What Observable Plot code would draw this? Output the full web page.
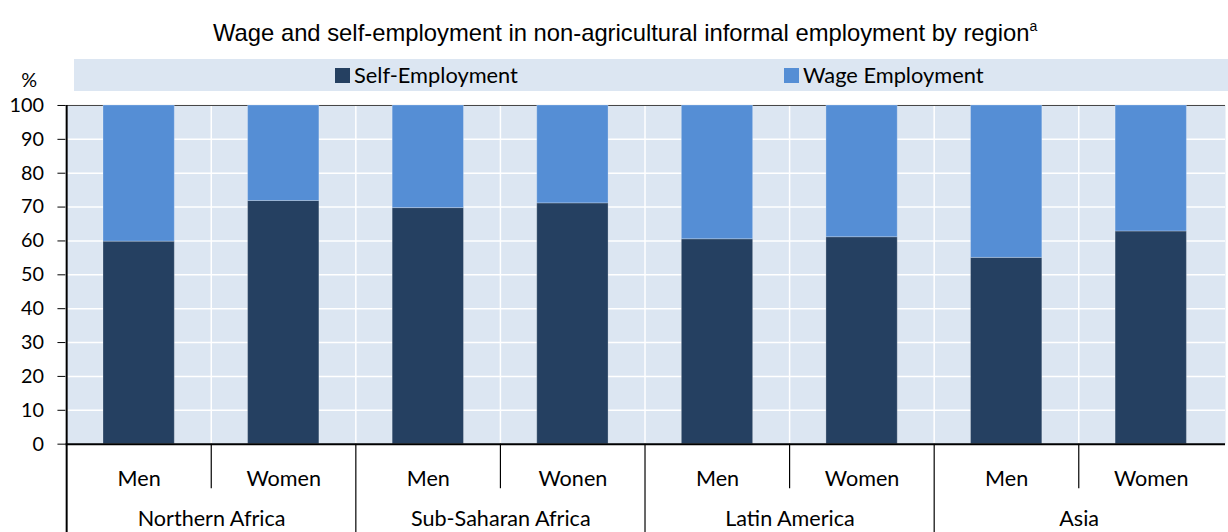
<!DOCTYPE html>
<html>
<head>
<meta charset="utf-8">
<script src="https://cdn.jsdelivr.net/npm/d3@7"></script>
<script src="https://cdn.jsdelivr.net/npm/@observablehq/plot@0.6"></script>
<style>
  html, body { margin: 0; padding: 0; background: #fff; overflow: hidden; }
  #wrap { position: relative; width: 1228px; height: 532px; overflow: hidden; }
  #title { position: absolute; left: 213px; top: 13px; font-family: "Liberation Sans", Arial, sans-serif; font-size: 23.8px; line-height: 28px; color: #000; white-space: nowrap; }
  #title sup { font-size: 14px; position: relative; top: -1px; }
  #legend { position: absolute; left: 74px; top: 59px; width: 1170px; height: 32px; background: #DCE6F2; font-family: Lato, "Noto Sans", sans-serif; font-size: 21.8px; color: #000; }
  .item { position: absolute; top: 0; height: 32px; line-height: 32px; white-space: nowrap; }
  .sw { position: absolute; top: 9px; width: 15px; height: 15px; }
  .lab { position: absolute; top: 0px; }
  #chart { position: absolute; left: 0; top: 0; }
</style>
</head>
<body>
<div id="wrap">
  <div id="chart"></div>
  <div id="title">Wage and self-employment in non-agricultural informal employment by region<sup>a</sup></div>
  <div id="legend"></div>
</div>
<script>
// ---- data ----
const regions = ["Northern Africa", "Sub-Saharan Africa", "Latin America", "Asia"];
const sexLabels = ["Men", "Women", "Men", "Wonen", "Men", "Women", "Men", "Women"];
const selfEmployment = [59.8, 71.8, 69.7, 71.1, 60.5, 61.1, 55.0, 62.8];
const wageEmployment = [40.2, 28.2, 30.3, 28.9, 39.5, 38.9, 45.0, 37.2];
const seriesNames = ["Self-Employment", "Wage Employment"];
const seriesColors = ["#254061", "#558ED5"];
const yTicks = [0, 10, 20, 30, 40, 50, 60, 70, 80, 90, 100];

// ---- layout ----
const W = 1240, H = 560, mL = 66, mR = 3, mT = 106, mB = 112;
const step = (W - mL - mR) / sexLabels.length;
const frameH = H - mT - mB;

const keys = sexLabels.map((s, i) => `${regions[Math.floor(i / 2)]}|${i}`);
const rows = [];
keys.forEach((k, i) => {
  rows.push({key: k, series: seriesNames[0], value: selfEmployment[i]});
  rows.push({key: k, series: seriesNames[1], value: wageEmployment[i]});
});
const sexRows = keys.map((k, i) => ({key: k, label: sexLabels[i]}));
const regionRows = regions.map((r, j) => ({key: keys[j * 2], label: r}));
const innerDividers = keys.filter((k, i) => i % 2 === 1);
const groupDividers = keys.filter((k, i) => i % 2 === 0);
const gridX = keys.slice(1);

const chart = Plot.plot({
  width: W, height: H,
  marginLeft: mL, marginRight: mR, marginTop: mT, marginBottom: mB,
  style: {fontFamily: "Lato, 'Noto Sans', sans-serif", fontSize: "20px", color: "#000", background: "transparent", overflow: "visible"},
  x: {domain: keys, paddingInner: 0.506, paddingOuter: 0.253, axis: null},
  y: {domain: [0, 100], axis: null},
  color: {domain: seriesNames, range: seriesColors},
  marks: [
    Plot.frame({fill: "#DCE6F2", stroke: null}),
    Plot.ruleY(yTicks.filter(t => t > 0 && t < 100), {stroke: "#fff", strokeWidth: 1.5}),
    Plot.ruleX(gridX, {x: d => d, dx: -step / 2, stroke: "#fff", strokeWidth: 1.5}),
    Plot.ruleY([100], {stroke: "#404040", strokeWidth: 1}),
    Plot.barY(rows, {x: "key", y: "value", fill: "series", stroke: "#fff", strokeOpacity: 0.25, strokeWidth: 1}),
    Plot.axisY({ticks: yTicks, tickSize: 8, tickPadding: 14, stroke: "#000", fontSize: 20, label: null}),
    Plot.text(["%"], {frameAnchor: "top-left", dx: -37, dy: -25, fontSize: 20, textAnchor: "middle", lineAnchor: "middle"}),
    // category table below
    Plot.ruleX(innerDividers, {x: d => d, dx: -step / 2, insetTop: frameH, insetBottom: -45, stroke: "#000", strokeWidth: 1.2}),
    Plot.ruleX(groupDividers.slice(1), {x: d => d, dx: -step / 2, insetTop: frameH, insetBottom: -120, stroke: "#000", strokeWidth: 1.2}),
    Plot.ruleX([keys[0]], {x: d => d, dx: -step / 2, insetBottom: -120, stroke: "#000", strokeWidth: 2}),
    Plot.ruleY([0], {stroke: "#000", strokeWidth: 2}),
    Plot.text(sexRows, {x: "key", text: "label", frameAnchor: "bottom", lineAnchor: "middle", dy: 35, fontSize: 21.8}),
    Plot.text(regionRows, {x: "key", text: "label", dx: step / 2, frameAnchor: "bottom", lineAnchor: "middle", dy: 76, fontSize: 21.8})
  ]
});
document.getElementById("chart").appendChild(chart);

// legend
const legend = document.getElementById("legend");
const legendX = [261, 710];
seriesNames.forEach((name, i) => {
  const it = document.createElement("div");
  it.className = "item";
  it.style.left = legendX[i] + "px";
  it.innerHTML = `<span class="sw" style="left:0;background:${seriesColors[i]}"></span><span class="lab" style="left:19px">${name}</span>`;
  legend.appendChild(it);
});
</script>
</body>
</html>
